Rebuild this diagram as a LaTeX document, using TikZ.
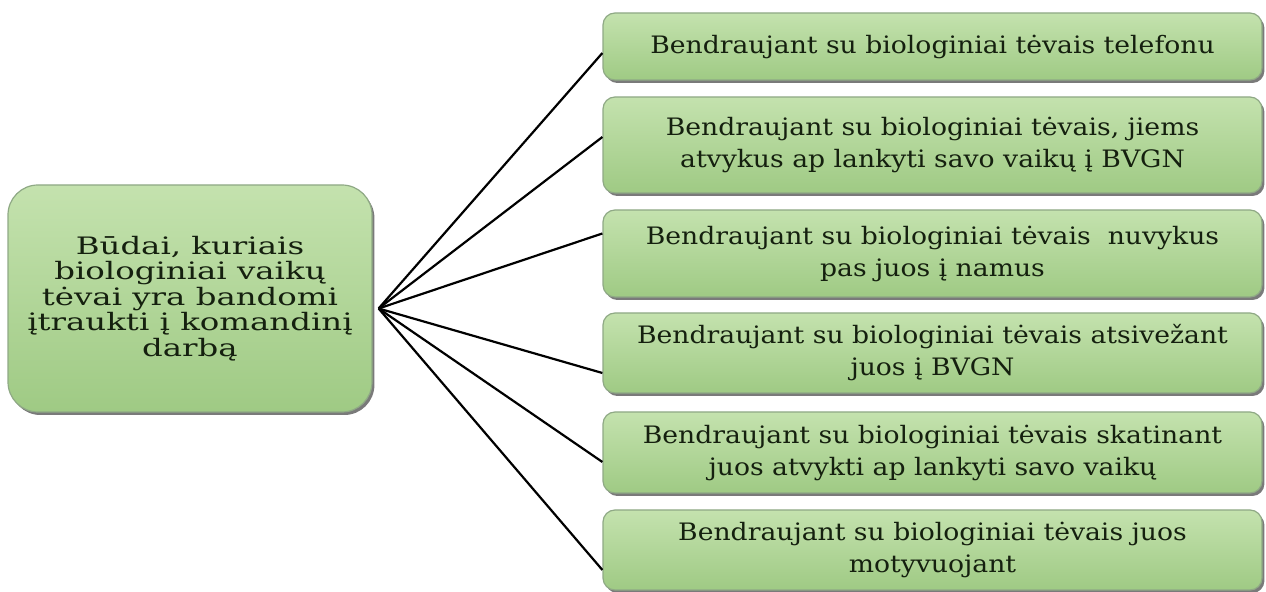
\documentclass[tikz,border=0pt]{standalone}
\usepackage{fontspec}
\setmainfont{DejaVu Serif}
\newfontfamily\widefont[FakeStretch=1.35]{DejaVu Serif}
\newfontfamily\wayfont[FakeStretch=1.11]{DejaVu Serif}
\usetikzlibrary{shadows}
\definecolor{boxtop}{HTML}{C4E2AE}
\definecolor{boxbot}{HTML}{9FCA84}
\definecolor{boxline}{HTML}{8FA985}
\definecolor{inktext}{HTML}{15200F}
\begin{document}
\begin{tikzpicture}[x=0.5pt,y=-0.5pt,
  greenbox/.style={draw=boxline,line width=0.6pt,top color=boxtop,bottom color=boxbot,
    drop shadow={shadow xshift=1.2pt,shadow yshift=-1.5pt,fill=black!65,opacity=0.8},
    text=inktext,align=center,inner sep=2pt},
  mainbox/.style={greenbox,rounded corners=15pt,minimum width=182pt,minimum height=113.5pt,
    font=\widefont\fontsize{12}{12.75}\selectfont},
  waybox/.style={greenbox,rounded corners=6pt,minimum width=329.5pt,
    font=\wayfont\fontsize{12}{16}\selectfont},
  link/.style={line width=1.1pt,black}]
\useasboundingbox (0,0) rectangle (1266,592);
\node [mainbox] (m) at (190,298.5) {Būdai, kuriais\\biologiniai vaikų\\tėvai yra bandomi\\įtraukti į komandinį\\darbą};
\node [waybox,minimum height=33.5pt] (w1) at (932.5,46.5) {Bendraujant su biologiniai tėvais telefonu};
\node [waybox,minimum height=48pt] (w2) at (932.5,145) {Bendraujant su biologiniai tėvais, jiems\\atvykus ap lankyti savo vaikų į BVGN};
\node [waybox,minimum height=43.5pt] (w3) at (932.5,253.5) {Bendraujant su biologiniai tėvais\ \ nuvykus\\pas juos į namus};
\node [waybox,minimum height=40pt] (w4) at (932.5,353) {Bendraujant su biologiniai tėvais atsivežant\\juos į BVGN};
\node [waybox,minimum height=40.5pt] (w5) at (932.5,452.5) {Bendraujant su biologiniai tėvais skatinant\\juos atvykti ap lankyti savo vaikų};
\node [waybox,minimum height=40pt] (w6) at (932.5,550) {Bendraujant su biologiniai tėvais juos\\motyvuojant};
% fan of links from the main box
\coordinate (hub) at ([shift={(3pt,-5pt)}]m.east);
\foreach \w/\dy in {w1/-3.25, w2/4, w3/10, w4/-10, w5/-4.75, w6/-10}
  \draw [link] (hub) -- ([yshift=\dy pt]\w.west);
\end{tikzpicture}
\end{document}
